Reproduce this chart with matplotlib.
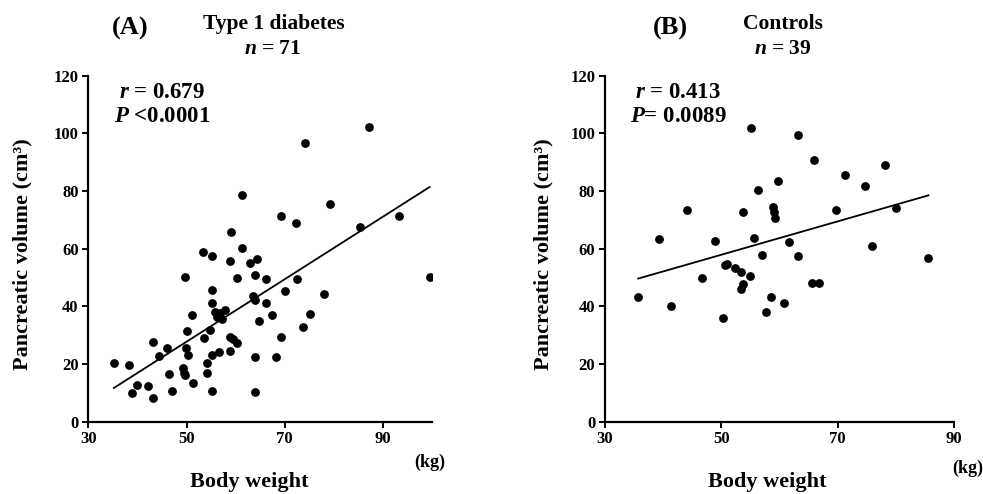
import matplotlib
matplotlib.use("Agg")
import matplotlib.pyplot as plt
import numpy as np

# (A) Type 1 diabetes, n = 71
t1d_weight = [35.2, 38.2, 39.0, 40.0, 42.2, 43.1, 43.1, 44.3, 46.1, 46.5,
              47.1, 49.2, 49.4, 49.7, 49.7, 49.8, 50.1, 50.4, 51.2, 51.4,
              53.3, 53.5, 54.2, 54.2, 54.7, 55.1, 55.1, 55.1, 55.1, 55.1,
              55.9, 56.2, 56.7, 56.9, 57.9, 58.9, 58.9, 58.9, 59.5, 60.3,
              60.3, 61.3, 61.3, 59.1, 62.9, 64.0, 64.0, 64.0, 64.0, 64.3,
              64.7, 66.2, 66.2, 67.4, 68.3, 69.3, 70.1, 72.5, 73.7, 75.2,
              78.0, 69.3, 72.3, 74.2, 79.3, 85.4, 87.1, 93.3, 99.5, 63.6,
              57.2]
t1d_volume = [20.5, 19.7, 10.1, 12.9, 12.5, 8.1, 27.7, 22.8, 25.4, 16.4,
              10.7, 18.5, 17.0, 16.2, 50.3, 25.4, 31.4, 23.1, 37.0, 13.5,
              59.0, 28.9, 20.5, 16.8, 31.8, 57.4, 45.6, 41.2, 23.1, 10.7,
              38.1, 36.4, 24.3, 37.8, 38.7, 55.8, 29.5, 24.5, 28.7, 27.4,
              49.7, 60.4, 78.6, 65.9, 54.9, 51.0, 42.2, 22.5, 10.4, 56.4,
              34.9, 49.4, 41.3, 37.0, 22.5, 29.3, 45.3, 49.4, 32.9, 37.3,
              44.2, 71.5, 69.0, 96.7, 75.5, 67.6, 102.3, 71.5, 50.3, 43.5,
              35.5]

# (B) Controls, n = 39
ctl_weight = [35.7, 39.3, 41.4, 44.1, 46.6, 48.9, 50.3, 50.6, 51.0, 52.3,
              53.4, 53.3, 53.8, 53.7, 54.9, 55.1, 55.6, 56.3, 57.0, 57.7,
              58.6, 58.8, 59.0, 59.3, 59.8, 60.8, 61.6, 63.1, 63.1, 65.6,
              66.8, 66.0, 69.7, 71.3, 74.7, 75.9, 78.1, 80.0, 85.6]
ctl_volume = [43.2, 63.2, 40.0, 73.3, 49.7, 62.5, 36.0, 54.2, 54.8, 53.4,
              51.9, 46.1, 47.9, 72.9, 50.5, 101.7, 63.8, 80.5, 57.7, 38.1,
              43.2, 74.4, 72.7, 70.6, 83.4, 41.2, 62.3, 99.4, 57.6, 48.1,
              48.1, 90.6, 73.3, 85.4, 81.7, 60.9, 88.9, 74.2, 56.8]

x_ticks = [30, 50, 70, 90]
y_ticks = [0, 20, 40, 60, 80, 100, 120]

plt.rcParams["font.family"] = ["Liberation Serif", "DejaVu Serif"]
plt.rcParams["font.weight"] = "bold"
plt.rcParams["mathtext.fontset"] = "custom"
plt.rcParams["mathtext.it"] = "Liberation Serif:italic:bold"
plt.rcParams["mathtext.rm"] = "Liberation Serif:bold"

W, H = 983, 494
fig = plt.figure(figsize=(W / 100, H / 100), dpi=100)


def px(x, y):
    return x / W, 1 - y / H


def panel(rect, xs, ys, xmax):
    ax = fig.add_axes(rect)
    ax.scatter(xs, ys, s=40, color="black", zorder=3, linewidths=0)
    slope, icpt = np.polyfit(xs, ys, 1)
    lx = np.array([min(xs), max(xs)])
    ax.plot(lx, slope * lx + icpt, color="black", lw=1.3)
    ax.set_xlim(30, xmax)
    ax.set_ylim(0, 120)
    ax.set_xticks(x_ticks)
    ax.set_yticks(y_ticks)
    for s in ["top", "right"]:
        ax.spines[s].set_visible(False)
    for s in ["left", "bottom"]:
        ax.spines[s].set_linewidth(1.6)
    ax.tick_params(width=1.4, length=4, labelsize=12, pad=3)
    for lab in ax.get_xticklabels() + ax.get_yticklabels():
        lab.set_fontweight("bold")
    return ax


axA = panel([88.3 / W, 1 - 421.7 / H, (432 - 88.3) / W, 346 / H],
            t1d_weight, t1d_volume, 100)
axB = panel([605 / W, 1 - 421.7 / H, (954 - 605) / W, 346 / H],
            ctl_weight, ctl_volume, 90)

# panel A texts
fig.text(*px(130, 28), "(A)", fontsize=19, ha="center", va="center")
fig.text(*px(274, 24), "Type 1 diabetes", fontsize=15.5, ha="center", va="center")
fig.text(*px(273, 49), r"$n$ = 71", fontsize=15.5, ha="center", va="center")
fig.text(*px(162, 92), r"$r$ = 0.679", fontsize=16.5, ha="center", va="center")
fig.text(*px(114, 117), r"$P$ <0.0001", fontsize=16.5, ha="left", va="center")
fig.text(*px(430, 462), "(kg)", fontsize=13, ha="center", va="center")
fig.text(*px(249, 482), "Body weight", fontsize=16, ha="center", va="center")
fig.text(*px(22, 254), "Pancreatic volume (cm³)", fontsize=16, ha="center",
         va="center", rotation=90)

# panel B texts
fig.text(*px(670, 28), "(B)", fontsize=19, ha="center", va="center")
fig.text(*px(783, 24), "Controls", fontsize=15.5, ha="center", va="center")
fig.text(*px(783, 49), r"$n$ = 39", fontsize=15.5, ha="center", va="center")
fig.text(*px(678, 92), r"$r$ = 0.413", fontsize=16.5, ha="center", va="center")
fig.text(*px(630, 117), r"$P$= 0.0089", fontsize=16.5, ha="left", va="center")
fig.text(*px(968, 468), "(kg)", fontsize=13, ha="center", va="center")
fig.text(*px(767, 482), "Body weight", fontsize=16, ha="center", va="center")
fig.text(*px(543, 254), "Pancreatic volume (cm³)", fontsize=16, ha="center",
         va="center", rotation=90)

fig.savefig("out.png", dpi=100)
